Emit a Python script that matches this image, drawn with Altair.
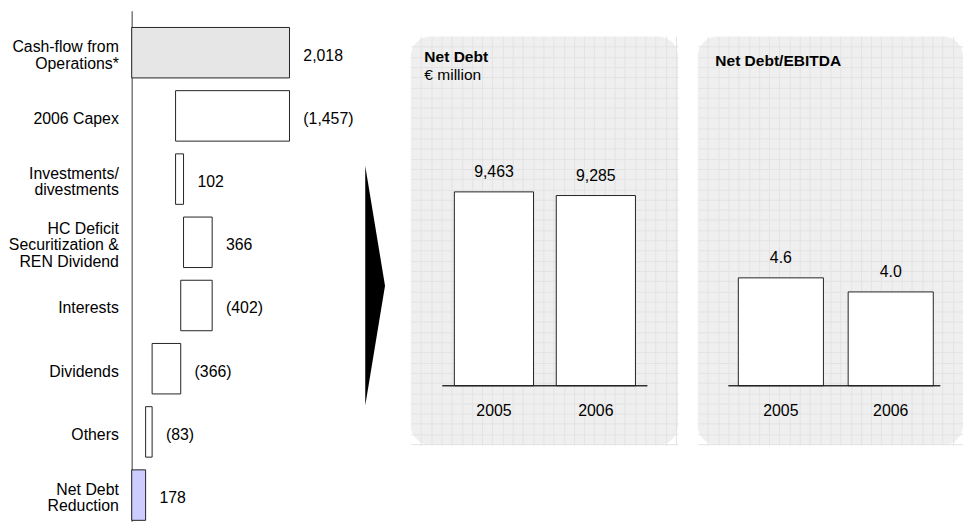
import altair as alt
import pandas as pd

# ---------------- data ----------------
categories = [
    "Cash-flow from|Operations*",
    "2006 Capex",
    "Investments/|divestments",
    "HC Deficit|Securitization &|REN Dividend",
    "Interests",
    "Dividends",
    "Others",
    "Net Debt|Reduction",
]
amounts = [2018, -1457, 102, 366, -402, -366, -83, 178]
kinds = ["start", "step", "step", "step", "step", "step", "step", "total"]

years = ["2005", "2006"]
net_debt = [9463, 9285]
net_debt_ebitda = [4.6, 4.0]

FONT = "Liberation Sans, Arial, Helvetica, sans-serif"
GRID = "#e3e3e3"
PANEL_FILL = "#efefef"
LINE_H = 16.5

# ---------------- waterfall ----------------
rows = []
running = 0
for cat, amt, kind in zip(categories, amounts, kinds):
    if kind == "start":
        s, e = 0, amt
        running = amt
    elif kind == "total":
        s, e = 0, amt
    else:
        s, e = running, running + amt
        running = e
    label = f"({abs(amt):,})" if amt < 0 else f"{amt:,}"
    rows.append(dict(cat=cat, start=s, end=e, right=max(s, e), label=label, kind=kind))
wf = pd.DataFrame(rows)

xscale = alt.Scale(domain=[0, 2987], nice=False, zero=False)
yscale = alt.Scale(paddingInner=0.2014, paddingOuter=0.1407, align=0.944)
yaxis = alt.Axis(
    title=None,
    labels=False,
    ticks=False,
    grid=False,
    domainColor="#7a7a7a",
    domainWidth=1.5,
)
ycat = alt.Y("cat:N", sort=categories, scale=yscale, axis=yaxis)

wbase = alt.Chart(wf)
wbars = wbase.mark_bar(stroke="#222", strokeWidth=1).encode(
    x=alt.X("start:Q", scale=xscale, axis=None),
    x2="end:Q",
    y=ycat,
    fill=alt.Fill(
        "kind:N",
        scale=alt.Scale(domain=["start", "step", "total"], range=["#e6e6e6", "#ffffff", "#ccccff"]),
        legend=None,
    ),
)
wvals = wbase.mark_text(
    align="left", baseline="middle", dx=14, dy=3, font=FONT, fontSize=16, color="#000"
).encode(
    x=alt.X("right:Q", scale=xscale, axis=None),
    y=ycat,
    text="label:N",
)
# category labels, one layer per number of text lines so each block is centred on its bar
cat_layers = []
for n in (1, 2, 3):
    cat_layers.append(
        wbase.transform_calculate(nl="length(split(datum.cat, '|'))")
        .transform_filter(f"datum.nl == {n}")
        .mark_text(
            align="right", baseline="middle", dx=-13, dy=-(n - 1) * LINE_H / 2 + 3,
            lineBreak="|", lineHeight=LINE_H, font=FONT, fontSize=16, color="#000",
        )
        .encode(x=alt.value(0), y=ycat, text="cat:N")
    )
left = alt.layer(wbars, wvals, *cat_layers).properties(width=236, height=516)

# ---------------- arrow ----------------
arrow = (
    alt.Chart(pd.DataFrame({"a": [0]}))
    .mark_point(shape="M 0 -1 L 0.165 0 L 0 1 Z", size=58564, filled=True, color="#000", opacity=1, strokeWidth=0)
    .encode(x=alt.value(0), y=alt.value(278))
    .properties(width=46, height=516)
)


# ---------------- panels ----------------
def panel(values, labels, w, ydom, pin, pout, align, base_x1, base_x2, titles):
    h = 413
    df = pd.DataFrame({"year": years, "value": values, "label": labels, "zero": [0] * len(values)})
    xenc = alt.X(
        "year:N",
        sort=years,
        scale=alt.Scale(paddingInner=pin, paddingOuter=pout, align=align),
        axis=alt.Axis(
            orient="bottom", offset=-60, title=None, domain=False, ticks=False, grid=False,
            labelPadding=17, labelFont=FONT, labelFontSize=16, labelColor="#000", labelAngle=0,
        ),
    )
    yenc = alt.Y("value:Q", scale=alt.Scale(domain=ydom, nice=False, zero=False), axis=None)
    bars = alt.Chart(df).mark_bar(fill="#ffffff", stroke="#222", strokeWidth=1).encode(
        x=xenc, y=yenc, y2="zero:Q"
    )
    texts = alt.Chart(df).mark_text(
        baseline="alphabetic", dy=-15, font=FONT, fontSize=16, color="#000"
    ).encode(x=xenc, y=yenc, text="label:N")
    rule = alt.Chart(df).mark_rule(color="#222", strokeWidth=1.2).encode(
        x=alt.value(base_x1), x2=alt.value(base_x2),
        y=alt.Y(datum=0, scale=alt.Scale(domain=ydom, nice=False, zero=False), axis=None),
    )
    tl = []
    for (t, tx, ty, bold) in titles:
        tl.append(
            alt.Chart(pd.DataFrame({"t": [t]}))
            .mark_text(align="left", baseline="alphabetic", font=FONT, fontSize=15.7,
                       fontWeight="bold" if bold else "normal", color="#000")
            .encode(x=alt.value(tx), y=alt.value(ty), text="t:N")
        )
    inner = alt.layer(bars, texts, rule, *tl)

    step = 10.3
    gvx = [round(step * i, 2) for i in range(1, int(w / step) + 1)]
    gvy = [round(step * i, 2) for i in range(1, int(h / step) + 1)]
    grid = alt.Chart(pd.DataFrame({"gx": [100], "gy": [100]})).mark_point(opacity=0, size=1).encode(
        x=alt.X("gx:Q", scale=alt.Scale(domain=[0, w], nice=False, zero=False),
                axis=alt.Axis(orient="top", values=gvx, grid=True, gridColor=GRID, gridWidth=1,
                              labels=False, ticks=False, domain=False, title=None)),
        y=alt.Y("gy:Q", scale=alt.Scale(domain=[0, h], nice=False, zero=False, reverse=True),
                axis=alt.Axis(orient="right", values=gvy, grid=True, gridColor=GRID, gridWidth=1,
                              labels=False, ticks=False, domain=False, title=None)),
    )
    return (
        alt.layer(grid, inner)
        .resolve_scale(x="independent", y="independent")
        .properties(width=w, height=h,
                    view=alt.ViewBackground(fill=PANEL_FILL, cornerRadius=20, stroke=None))
    )


p1 = panel(
    net_debt, [f"{v:,}" for v in net_debt], 270, [-2898.6, 17053.0],
    0.2233, 0.4224, 0.506, 32, 239,
    [("Net Debt", 13.7, 26.3, True), ("€ million", 13.7, 44, False)],
)
p2 = panel(
    net_debt_ebitda, [f"{v:.1f}" for v in net_debt_ebitda], 268, [-2.532, 14.895],
    0.2252, 0.3198, 0.577, 31, 245,
    [("Net Debt/EBITDA", 17.7, 30, True)],
)

spacer = (
    alt.Chart(pd.DataFrame({"a": [0]}))
    .mark_point(opacity=0, size=1)
    .encode(x=alt.value(5), y=alt.value(13))
    .properties(width=10, height=26)
)
right = alt.vconcat(spacer, alt.hconcat(p1, p2, spacing=20), spacing=0)

chart = (
    alt.hconcat(left, arrow, right, spacing=0)
    .properties(padding=0, background="#ffffff")
    .configure_view(stroke=None)
)

chart.save("out.html", embed_options={"renderer": "svg", "actions": False})
